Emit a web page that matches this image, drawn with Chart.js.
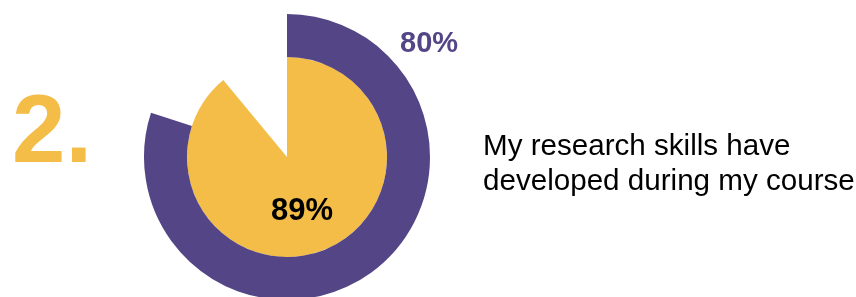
<!DOCTYPE html>
<html lang="en">
<head>
    <meta charset="UTF-8">
    <title>Research skills</title>
    <script src="https://cdn.jsdelivr.net/npm/chart.js@4/dist/chart.umd.min.js"></script>
    <style>
        html, body { margin: 0; padding: 0; background: #fff; overflow: hidden; }
        #wrap { position: relative; width: 856px; height: 300px; }
    </style>
</head>
<body>
    <div id="wrap"><canvas id="myChart"></canvas></div>
    <script>
        // values
        const questionNo = '2.';
        const questionText = ['My research skills have', 'developed during my course'];
        const outerValues = [80, 20];   // purple ring
        const innerValues = [89, 11];   // yellow pie
        const outerLabel = outerValues[0] + '%';
        const innerLabel = innerValues[0] + '%';

        const purple = '#544686';
        const yellow = '#F4BD48';
        const none = 'rgba(0,0,0,0)';

        // draw the texts on top of the rings
        const textPlugin = {
            id: 'texts',
            afterDraw(chart) {
                const c = chart.ctx;
                c.save();
                c.textBaseline = 'alphabetic';
                c.textAlign = 'left';

                c.fillStyle = yellow;
                c.font = 'bold 96px "Liberation Sans", Arial, sans-serif';
                c.fillText(questionNo, 12, 162);

                c.fillStyle = purple;
                c.font = 'bold 29px "Liberation Sans", Arial, sans-serif';
                c.fillText(outerLabel, 400, 52);

                c.fillStyle = '#000';
                c.font = 'bold 31px "Liberation Sans", Arial, sans-serif';
                c.fillText(innerLabel, 271, 220);

                c.fillStyle = '#000';
                c.font = '29.6px "Liberation Sans", Arial, sans-serif';
                c.fillText(questionText[0], 483, 155);
                c.fillText(questionText[1], 483, 190);
                c.restore();
            }
        };

        const ctx = document.getElementById('myChart').getContext('2d');
        new Chart(ctx, {
            type: 'doughnut',
            data: {
                labels: ['yes', 'rest'],
                datasets: [{
                    data: outerValues,
                    backgroundColor: [purple, none],
                    borderWidth: 0,
                    weight: 43,
                }, {
                    data: innerValues,
                    backgroundColor: [yellow, none],
                    borderWidth: 0,
                    weight: 100,
                }],
            },
            options: {
                responsive: true,
                maintainAspectRatio: false,
                animation: false,
                cutout: 0,
                layout: { padding: { left: 144, right: 426, top: 14, bottom: 0 } },
                plugins: {
                    legend: { display: false },
                    tooltip: { enabled: false },
                },
            },
            plugins: [textPlugin],
        });
    </script>
</body>
</html>
